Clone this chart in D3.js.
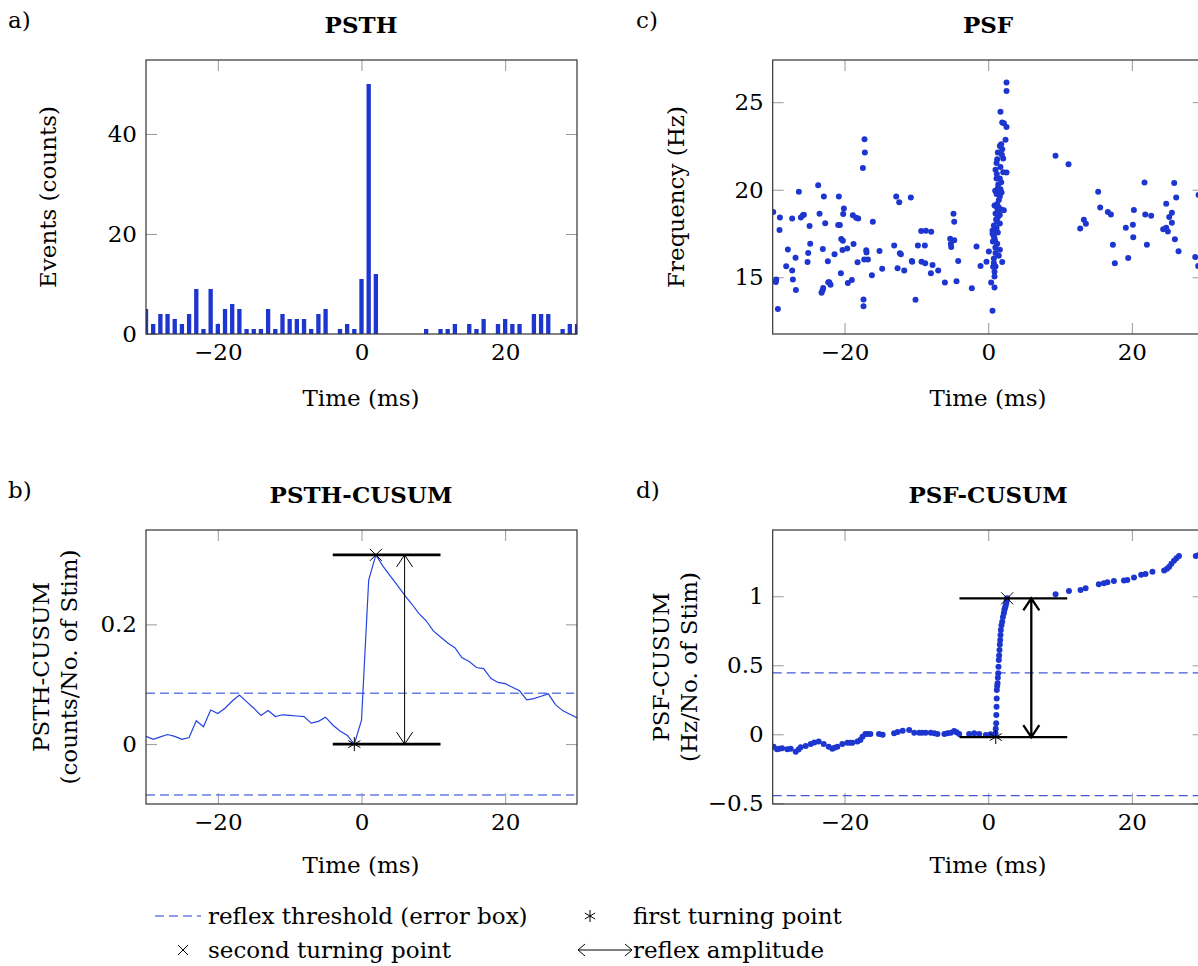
<!DOCTYPE html>
<html lang="en">
<head>
<meta charset="UTF-8">
<title>PSTH / PSF CUSUM</title>
<script src="https://d3js.org/d3.v7.min.js"></script>
<style>
  body { margin: 0; background: #fff; }
  text { font-family: "DejaVu Serif", "Liberation Serif", serif; font-size: 23px; fill: #000; }
  .tick text { font-size: 23px; }
  .tick line { stroke: #999; }
  .title { font-weight: bold; }
</style>
</head>
<body>
<svg id="chart" width="1198" height="966"></svg>
<script>
// ---- values ----
var timeBins = [-30,-29,-28,-27,-26,-25,-24,-23,-22,-21,-20,-19,-18,-17,-16,-15,-14,-13,-12,-11,
  -10,-9,-8,-7,-6,-5,-4,-3,-2,-1,0,1,2,3,4,5,6,7,8,9,10,11,12,13,14,15,16,17,18,19,20,
  21,22,23,24,25,26,27,28,29,30];
var psthCounts = [5,2,4,4,3,2,4,9,1,9,2,5,6,5,1,1,1,5,1,4,
  3,3,3,1,4,5,0,1,2,1,11,50,12,0,0,0,0,0,0,1,0,
  1,1,2,0,2,1,3,0,2,3,2,2,0,4,4,4,0,1,2,2];
var psthCusum = [.013,.008,.012,.016,.013,.008,.011,.039,.029,.057,.051,.060,.072,.082,.071,.060,.048,.056,.046,.049,
  .048,.047,.046,.035,.038,.045,.032,.022,.015,.000,.040,.274,.316,.297,.281,.265,.249,.234,.218,.206,.189,
  .179,.169,.161,.144,.138,.128,.126,.110,.103,.101,.095,.089,.074,.076,.080,.084,.066,.056,.050,.044];
var psthThreshold = 0.085;
var psthFirstTurn = [-1, 0];
var psthSecondTurn = [2, 0.316];

// spike time (ms), instantaneous frequency (Hz)
var psfSpikes = [
  [-29.93,18.73],[-29.51,14.87],[-29.56,14.73],[-29.28,13.19],[-29.0,18.42],[-29.05,17.70],[-28.12,15.63],[-27.89,16.58],
  [-27.29,18.36],[-27.29,15.38],[-27.19,14.87],[-26.82,16.12],[-26.77,14.28],[-26.36,19.89],[-26.08,18.42],[-25.80,18.54],
  [-25.66,18.57],[-25.15,15.87],[-25.06,16.39],[-24.87,17.93],[-24.78,16.92],[-23.67,20.25],[-23.48,18.63],[-23.20,14.11],
  [-23.06,14.26],[-23.02,16.62],[-22.97,14.39],[-22.88,19.62],[-22.69,18.08],[-22.32,15.91],[-22.27,14.71],[-22.13,14.71],
  [-21.95,14.58],[-21.39,16.31],[-20.79,19.62],[-20.88,17.98],[-20.65,17.98],[-20.51,15.23],[-20.46,17.19],[-20.28,16.56],
  [-20.23,17.09],[-20.19,18.61],[-20.09,18.93],[-19.63,16.65],[-19.54,14.68],[-18.98,14.85],[-18.84,18.54],[-18.75,16.90],
  [-18.38,18.40],[-18.19,15.86],[-18.10,18.36],[-17.45,21.24],[-17.22,22.89],[-17.17,22.13],[-17.36,13.73],[-17.36,13.35],
  [-16.98,16.54],[-16.94,16.42],[-17.26,16.01],[-16.75,16.01],[-16.19,15.11],[-16.06,18.17],[-15.13,16.50],[-14.76,15.48],
  [-13.09,16.82],[-12.81,19.62],[-12.39,19.28],[-12.62,15.51],[-12.30,16.37],[-12.16,16.31],[-11.69,15.38],[-10.77,19.56],
  [-10.63,15.93],[-10.58,15.89],[-10.12,13.71],[-9.79,16.81],[-9.33,17.64],[-9.28,15.89],[-8.82,16.82],[-8.77,15.80],
  [-8.68,17.66],[-7.98,15.23],[-7.94,17.60],[-7.75,15.70],[-6.96,15.38],[-6.03,14.70],[-5.29,17.20],[-5.20,16.90],
  [-5.15,16.73],[-4.73,17.11],[-4.83,18.63],[-4.73,18.17],[-4.41,14.77],[-4.18,15.93],
  [-2.28,14.38],[-1.63,16.76],[-1.07,15.64],[-0.24,15.89],[0.09,16.47],
  [2.55,26.12],[2.55,25.64],[1.71,24.46],[1.95,23.84],[2.55,23.59],[2.18,23.80],[2.41,22.85],[1.81,22.60],
  [1.62,22.50],[1.95,22.31],[1.34,22.12],[2.09,21.78],[1.25,21.74],[1.16,21.52],[1.02,21.14],[2.09,21.00],
  [2.55,20.98],[1.16,20.64],[1.62,20.64],[1.81,20.43],[0.97,19.94],[1.34,20.09],[1.71,20.03],[1.86,19.84],
  [1.16,19.75],[1.62,19.61],[1.48,19.42],[1.25,19.19],[0.88,19.10],[1.25,18.95],[1.81,18.87],[2.18,18.83],
  [1.02,18.64],[1.62,18.55],[1.34,18.43],[1.20,18.21],[1.62,18.07],[0.79,17.96],[1.16,17.81],[0.60,17.67],
  [1.02,17.56],[0.60,17.48],[0.79,17.33],[1.34,17.56],[0.97,17.05],[0.65,17.05],[1.25,16.92],[1.62,16.57],
  [1.02,16.38],[0.79,16.07],[1.48,16.23],[1.95,15.87],[0.79,15.81],[1.02,15.62],[0.69,15.60],[0.88,15.31],
  [0.88,15.05],[0.41,14.70],[0.88,14.42],[0.60,13.09],[1.30,18.70],[1.50,19.90],[1.10,18.30],[0.90,17.20],
  [1.40,20.30],[1.70,21.30],[1.90,22.00],[1.45,19.00],[1.20,20.90],[1.00,16.70],
  [9.37,21.94],[11.18,21.46],[15.31,19.89],[15.59,18.99],[13.32,18.29],[13.60,18.06],[12.81,17.79],[16.66,18.73],
  [17.08,18.59],[17.36,16.86],[17.63,15.80],[19.16,17.83],[19.49,16.10],[20.14,18.00],[20.28,18.84],[20.19,17.28],
  [21.76,20.42],[21.86,18.59],[22.69,18.52],[22.09,16.86],[24.36,17.74],[24.78,19.20],[25.01,17.62],[24.78,17.83],
  [25.20,18.44],[25.57,18.69],[25.57,18.12],[25.89,20.38],[26.17,19.56],[25.99,17.17],[26.50,16.48],[29.28,19.70],
  [28.82,16.16],[29.23,15.64]
];

// PSF-CUSUM points: time (ms), cusum (Hz / No. of Stim)
var psfCusum = [
  [-29.87,-0.090],[-29.4,-0.109],[-29.1,-0.105],[-28.7,-0.102],[-27.97,-0.109],[-27.5,-0.104],[-26.8,-0.126],[-26.4,-0.110],
  [-26.1,-0.094],[-25.4,-0.085],[-24.7,-0.070],[-24.2,-0.060],[-23.6,-0.053],[-22.9,-0.070],[-22.2,-0.090],[-21.7,-0.104],
  [-21.4,-0.098],[-21.0,-0.090],[-20.3,-0.070],[-19.6,-0.061],[-19.2,-0.061],[-18.9,-0.061],[-18.2,-0.053],[-17.8,-0.041],
  [-17.5,-0.017],[-17.1,0.002],[-16.8,0.002],[-16.4,0.002],[-15.2,0.002],[-14.7,-0.003],[-13.1,0.007],[-12.6,0.017],
  [-11.9,0.026],[-11.0,0.031],[-10.3,0.012],[-9.6,0.012],[-9.2,0.012],[-8.7,0.012],[-8.0,0.012],[-7.5,0.008],
  [-7.07,0.002],[-6.1,0.002],[-5.67,0.007],[-5.2,0.012],[-4.74,0.024],[-4.4,0.015],[-4.04,0.002],[-2.65,0.002],
  [-1.95,0.007],[-1.25,0.002],[-0.33,-0.005],[0.32,0.0],
  [1.02,0.007],[1.05,0.04],[1.11,0.080],[1.13,0.14],[1.16,0.200],[1.18,0.26],[1.20,0.321],[1.25,0.35],
  [1.30,0.370],[1.34,0.41],[1.39,0.442],[1.43,0.49],[1.48,0.538],[1.52,0.57],[1.57,0.611],[1.62,0.65],
  [1.67,0.683],[1.71,0.72],[1.76,0.756],[1.85,0.79],[1.95,0.816],[2.05,0.85],[2.18,0.877],[2.25,0.90],
  [2.32,0.913],[2.42,0.93],[2.51,0.949],[2.58,0.97],[2.64,0.986],
  [9.38,1.014],[11.24,1.038],[12.86,1.046],[13.56,1.058],[15.4,1.087],[16.1,1.095],[16.6,1.101],[17.5,1.111],
  [18.9,1.115],[19.37,1.118],[20.3,1.135],[21.3,1.155],[21.9,1.162],[22.86,1.178],[24.5,1.186],[24.9,1.200],
  [25.2,1.214],[25.5,1.235],[25.87,1.258],[26.2,1.275],[26.56,1.292],[28.9,1.292],[29.3,1.300]
];
var psfThreshold = 0.445;
var psfFirstTurn = [1.05, -0.02];
var psfSecondTurn = [2.64, 0.985];

var ampSpan = [-4, 11];   // extent of the turning-point bars (ms)
var ampAt = 6;            // where the amplitude arrow sits (ms)

var xTicks = [-20, 0, 20];

// ---- layout ----
var W = 431, H = 274, TICK = 11;
var BLUE = "#1d36cf";
var svg = d3.select("#chart");
svg.append("rect").attr("width", 1198).attr("height", 966).attr("fill", "#fff");
var clipN = 0;

function panel(left, top, yDomain, yTicks) {
  var g = svg.append("g").attr("transform", "translate(" + left + "," + top + ")");
  var x = d3.scaleLinear().domain([-30, 30]).range([0, W]);
  var y = d3.scaleLinear().domain(yDomain).range([H, 0]);
  var id = "clip" + (clipN++);
  g.append("clipPath").attr("id", id).append("rect").attr("width", W).attr("height", H);
  var fmt = d3.format("");

  g.append("g").attr("transform", "translate(0," + H + ")")
    .call(d3.axisBottom(x).tickValues(xTicks).tickSize(-TICK).tickPadding(10).tickFormat(fmt));
  g.append("g").call(d3.axisTop(x).tickValues(xTicks).tickSize(-TICK).tickFormat(""));
  g.append("g")
    .call(d3.axisLeft(y).tickValues(yTicks).tickSize(-TICK).tickPadding(9).tickFormat(fmt));
  g.append("g").attr("transform", "translate(" + W + ",0)")
    .call(d3.axisRight(y).tickValues(yTicks).tickSize(-TICK).tickFormat(""));
  g.selectAll(".domain").remove();
  g.selectAll("g").attr("font-family", null).attr("font-size", null);

  var plot = g.append("g").attr("clip-path", "url(#" + id + ")");
  g.append("rect").attr("width", W).attr("height", H)
    .attr("fill", "none").attr("stroke", "#333").attr("stroke-width", 1.2);
  return { g: g, plot: plot, x: x, y: y };
}

function asteriskPath(cx, cy, r) {
  var p = "";
  [90, 30, 150].forEach(function(a) {
    var dx = r * Math.cos(a * Math.PI / 180), dy = r * Math.sin(a * Math.PI / 180);
    p += "M" + (cx + dx) + "," + (cy - dy) + "L" + (cx - dx) + "," + (cy + dy);
  });
  return p;
}
function crossPath(cx, cy, r) {
  return "M" + (cx - r) + "," + (cy - r) + "L" + (cx + r) + "," + (cy + r) +
         "M" + (cx - r) + "," + (cy + r) + "L" + (cx + r) + "," + (cy - r);
}
function arrowPath(x0, y0, y1, hw, hl) {
  // vertical double-headed arrow, y0 = top, y1 = bottom
  return "M" + x0 + "," + y0 + "L" + x0 + "," + y1 +
    "M" + (x0 - hw) + "," + (y0 + hl) + "L" + x0 + "," + y0 + "L" + (x0 + hw) + "," + (y0 + hl) +
    "M" + (x0 - hw) + "," + (y1 - hl) + "L" + x0 + "," + y1 + "L" + (x0 + hw) + "," + (y1 - hl);
}

function threshold(p, val, color) {
  p.plot.selectAll("line.thr").data([val, -val]).join("line").attr("class", "thr")
    .attr("x1", p.x(-30)).attr("x2", p.x(29.6))
    .attr("y1", function(d) { return p.y(d); }).attr("y2", function(d) { return p.y(d); })
    .attr("stroke", color).attr("stroke-width", 1.3).attr("stroke-dasharray", "9,5");
}

function turning(p, first, second, lineW, arrowW) {
  p.g.selectAll("line.amp").data([first[1], second[1]]).join("line").attr("class", "amp")
    .attr("x1", p.x(ampSpan[0])).attr("x2", p.x(ampSpan[1]))
    .attr("y1", function(d) { return p.y(d); }).attr("y2", function(d) { return p.y(d); })
    .attr("stroke", "#000").attr("stroke-width", lineW);
  p.g.append("path").attr("d", arrowPath(p.x(ampAt), p.y(second[1]), p.y(first[1]), 8, 12))
    .attr("fill", "none").attr("stroke", "#000").attr("stroke-width", arrowW);
  p.g.append("path").attr("d", asteriskPath(p.x(first[0]), p.y(first[1]), 7))
    .attr("stroke", "#000").attr("stroke-width", 1);
  p.g.append("path").attr("d", crossPath(p.x(second[0]), p.y(second[1]), 6))
    .attr("stroke", "#000").attr("stroke-width", 1);
}

// ---- a) PSTH ----
var pa = panel(146, 60, [0, 54.8], [0, 20, 40]);
var bw = (pa.x(1) - pa.x(0)) * 0.6;
pa.plot.selectAll("rect.bar").data(timeBins).join("rect").attr("class", "bar")
  .attr("x", function(d) { return pa.x(d) - bw / 2; })
  .attr("width", bw)
  .attr("y", function(d, i) { return pa.y(psthCounts[i]); })
  .attr("height", function(d, i) { return pa.y(0) - pa.y(psthCounts[i]); })
  .attr("fill", BLUE);

// ---- c) PSF ----
var pc = panel(772.7, 60, [11.76, 27.41], [15, 20, 25]);
pc.plot.selectAll("circle").data(psfSpikes).join("circle")
  .attr("cx", function(d) { return pc.x(d[0]); })
  .attr("cy", function(d) { return pc.y(d[1]); })
  .attr("r", 3).attr("fill", BLUE);

// ---- b) PSTH-CUSUM ----
var pb = panel(146, 530, [-0.1, 0.3576], [0, 0.2]);
threshold(pb, psthThreshold, "#6a7ce2");
pb.plot.append("path").datum(timeBins)
  .attr("d", d3.line().x(function(d) { return pb.x(d); }).y(function(d, i) { return pb.y(psthCusum[i]); }))
  .attr("fill", "none").attr("stroke", "#2443e0").attr("stroke-width", 1.2);
turning(pb, psthFirstTurn, psthSecondTurn, 2.8, 1);

// ---- d) PSF-CUSUM ----
var pd = panel(772.7, 530, [-0.505, 1.48], [-0.5, 0, 0.5, 1]);
threshold(pd, psfThreshold, "#4257da");
pd.plot.selectAll("circle").data(psfCusum).join("circle")
  .attr("cx", function(d) { return pd.x(d[0]); })
  .attr("cy", function(d) { return pd.y(d[1]); })
  .attr("r", 3).attr("fill", BLUE);
turning(pd, psfFirstTurn, psfSecondTurn, 2.3, 2.3);

// ---- titles and labels ----
var labels = [
  { t: "a)", x: 8, y: 28, a: "start" }, { t: "c)", x: 636, y: 28, a: "start" },
  { t: "b)", x: 8, y: 498, a: "start" }, { t: "d)", x: 636, y: 498, a: "start" },
  { t: "Time (ms)", x: 361, y: 406, a: "middle" }, { t: "Time (ms)", x: 988, y: 406, a: "middle" },
  { t: "Time (ms)", x: 361, y: 873, a: "middle" }, { t: "Time (ms)", x: 988, y: 873, a: "middle" }
];
svg.selectAll("text.lab").data(labels).join("text").attr("class", "lab")
  .attr("x", function(d) { return d.x; }).attr("y", function(d) { return d.y; })
  .attr("text-anchor", function(d) { return d.a; }).text(function(d) { return d.t; });

var titles = [{ t: "PSTH", x: 361, y: 33 }, { t: "PSF", x: 988, y: 33 },
              { t: "PSTH-CUSUM", x: 361, y: 503 }, { t: "PSF-CUSUM", x: 988, y: 503 }];
svg.selectAll("text.title").data(titles).join("text").attr("class", "title")
  .attr("x", function(d) { return d.x; }).attr("y", function(d) { return d.y; })
  .attr("text-anchor", "middle").text(function(d) { return d.t; });

var yLabels = [
  { t: "Events (counts)", x: 48, y: 197 }, { t: "Frequency (Hz)", x: 676, y: 197 },
  { t: "PSTH-CUSUM", x: 41, y: 667 }, { t: "(counts/No. of Stim)", x: 69, y: 667 },
  { t: "PSF-CUSUM", x: 661, y: 667 }, { t: "(Hz/No. of Stim)", x: 689, y: 667 }
];
svg.selectAll("text.ylab").data(yLabels).join("text").attr("class", "ylab")
  .attr("transform", function(d) { return "translate(" + d.x + "," + d.y + ") rotate(-90)"; })
  .attr("text-anchor", "middle").attr("dominant-baseline", "central")
  .text(function(d) { return d.t; });

// ---- legend ----
var lg = svg.append("g");
lg.append("line").attr("x1", 155).attr("x2", 201).attr("y1", 916).attr("y2", 916)
  .attr("stroke", "#6a7ce2").attr("stroke-width", 1.3).attr("stroke-dasharray", "9,5");
lg.append("text").attr("x", 208).attr("y", 924).text("reflex threshold (error box)");
lg.append("path").attr("d", asteriskPath(590, 916, 6)).attr("stroke", "#000").attr("stroke-width", 1);
lg.append("text").attr("x", 633).attr("y", 924).text("first turning point");
lg.append("path").attr("d", crossPath(183, 950, 5)).attr("stroke", "#000").attr("stroke-width", 1);
lg.append("text").attr("x", 208).attr("y", 958).text("second turning point");
lg.append("path")
  .attr("d", "M578,950L632,950M585,944L578,950L585,956M625,944L632,950L625,956")
  .attr("fill", "none").attr("stroke", "#000").attr("stroke-width", 1);
lg.append("text").attr("x", 633).attr("y", 958).text("reflex amplitude");
</script>
</body>
</html>
